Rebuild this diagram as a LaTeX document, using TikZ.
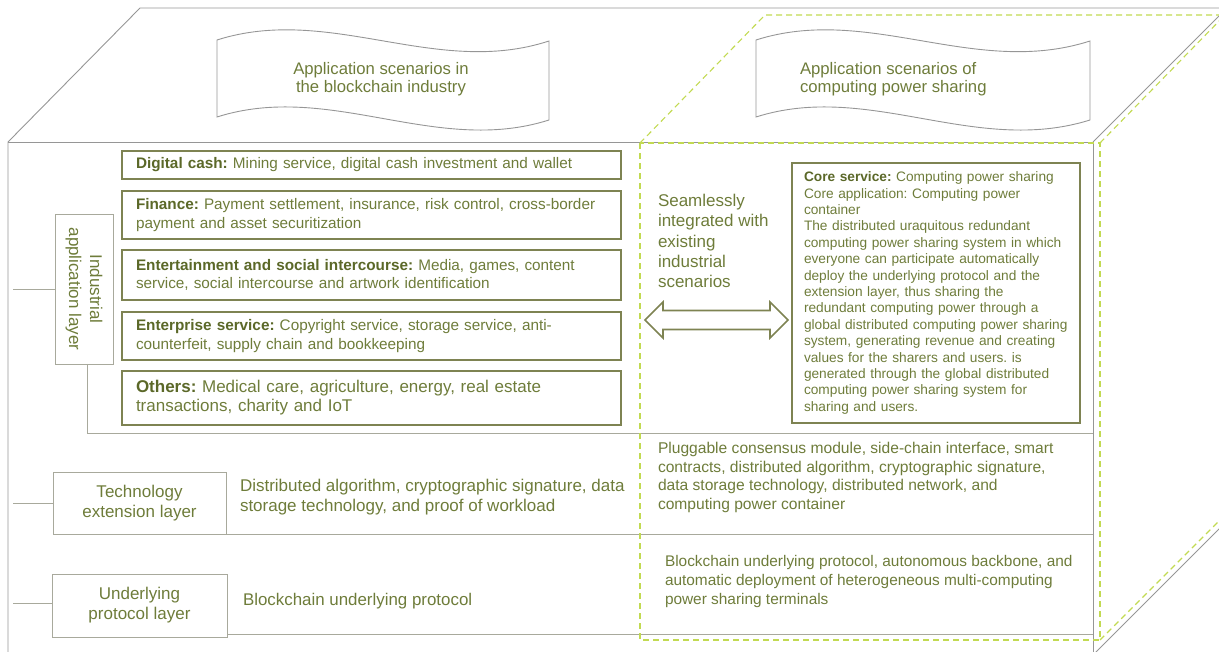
\documentclass[tikz,border=0pt]{standalone}
\usepackage{fontspec}
\setmainfont{Liberation Sans}
\usetikzlibrary{calc}
\frenchspacing

\definecolor{olivetext}{HTML}{6E7C3A}
\definecolor{olivedark}{HTML}{5B6828}
\definecolor{boxline}{HTML}{7E8352}
\definecolor{frameline}{HTML}{969696}
\definecolor{labelline}{HTML}{A8A99C}
\definecolor{limedash}{HTML}{C2DA52}

\newcommand\boxhead[1]{\textbf{\color{olivedark}#1}}

\begin{document}
\begin{tikzpicture}[x=1pt,y=-1pt,
  every node/.style={inner sep=0pt, outer sep=0pt, text=olivetext},
  frame/.style={draw=frameline, line width=0.9pt},
  limeline/.style={draw=limedash, line width=1.1pt, dash pattern=on 6pt off 4pt},
  banner/.style={draw=frameline, line width=0.9pt},
  appbox/.style={draw=boxline, line width=1.6pt, anchor=north west, align=left,
    text width=471pt, inner xsep=14pt, font=\fontsize{15.3}{18.4}\selectfont},
  corebox/.style={draw=boxline, line width=1.6pt, anchor=north west, align=left,
    text width=264pt, inner xsep=12pt, font=\fontsize{13.7}{16.4}\selectfont},
  layerbox/.style={draw=labelline, line width=0.9pt, align=center,
    font=\fontsize{17}{20}\selectfont},
  link/.style={draw=labelline, line width=0.9pt},
  plain/.style={anchor=west, align=left},
  arrowline/.style={draw=boxline, line width=1.6pt, line join=miter}
]
\useasboundingbox (0,0) rectangle (1219,652);

% ---- outer block: front face, top face and right face
\begin{scope}
  \clip (0,0) rectangle (1219,652);
  \draw[frame] (8,660) -- (8,142) -- (140,8) -- (1240,8);
  \draw[frame] (8,142) -- (1093,142) -- (1093,660);
  \draw[frame] (1093,142) -- (1227,8);
  \draw[frame] (1093,655) -- (1227,521);
\end{scope}

% ---- scenario banners
\draw[banner] (217,40) .. controls (330,4) and (436,78) .. (549,41)
  -- (549,120) .. controls (436,156) and (330,81) .. (217,117) -- cycle;
\draw[banner] (756,40) .. controls (869,4) and (975,78) .. (1090,41)
  -- (1090,120) .. controls (975,156) and (869,81) .. (756,117) -- cycle;
\node[align=center, font=\fontsize{16.7}{18.6}\selectfont] (bannerA) at (381,79)
  {Application scenarios in\\the blockchain industry};
\node[anchor=west, align=left, font=\fontsize{16.7}{18.6}\selectfont] (bannerB) at (800,79)
  {Application scenarios of\\computing power sharing};

% ---- industrial application layer
\node[appbox, minimum height=28pt] (cash) at (122,151)
  {\boxhead{Digital cash:} Mining service, digital cash investment and wallet};
\node[appbox, minimum height=48pt] (finance) at (122,191)
  {\boxhead{Finance:} Payment settlement, insurance, risk control, cross-border\\payment and asset securitization};
\node[appbox, minimum height=50pt] (social) at (122,250)
  {\boxhead{Entertainment and social intercourse:} Media, games, content\\service, social intercourse and artwork identification};
\node[appbox, minimum height=48pt] (enterprise) at (122,312)
  {\boxhead{Enterprise service:} Copyright service, storage service, anti-\\counterfeit, supply chain and bookkeeping};
\node[appbox, minimum height=54pt, font=\fontsize{17}{19}\selectfont] (others) at (122,371)
  {\boxhead{Others:} Medical care, agriculture, energy, real estate\\transactions, charity and IoT};

\node[layerbox, minimum width=58pt, minimum height=150pt] (ind) at (84,289) {};
\node[rotate=-90, align=center, font=\fontsize{17}{21}\selectfont] (indtext) at (ind.center)
  {Industrial\\application layer};

\coordinate (indL) at (13,289);
\coordinate (rowA) at (1093,433);
\draw[link] (indL) -- (ind.west);
\draw[link] ([xshift=3pt]ind.south) |- (rowA);

% ---- bridge between the two sides
\node[plain, font=\fontsize{17}{20.4}\selectfont] (bridge) at (658,241)
  {Seamlessly\\integrated with\\existing\\industrial\\scenarios};
\draw[arrowline] (645,320) -- (663,302) -- (663,310.5) -- (770,310.5) -- (770,302)
  -- (788,320) -- (770,338) -- (770,329.5) -- (663,329.5) -- (663,338) -- cycle;

\node[corebox, minimum height=260pt] (core) at (792,163)
  {\boxhead{Core service:} Computing power sharing\\
   Core application: Computing power\\
   container\\
   The distributed uraquitous redundant\\
   computing power sharing system in which\\
   everyone can participate automatically\\
   deploy the underlying protocol and the\\
   extension layer, thus sharing the\\
   redundant computing power through a\\
   global distributed computing power sharing\\
   system, generating revenue and creating\\
   values for the sharers and users. is\\
   generated through the global distributed\\
   computing power sharing system for\\
   sharing and users.};

% ---- technology extension layer
\node[layerbox, minimum width=173pt, minimum height=62pt] (tech) at (139.5,503)
  {Technology\\extension layer};
\coordinate (techL) at (13,503);
\coordinate (rowB) at (1093,534);
\draw[link] (techL) -- (tech.west);
\draw[link] (tech.south east) -- (rowB);
\node[plain, font=\fontsize{17}{20}\selectfont] (techleft) at (240,497)
  {Distributed algorithm, cryptographic signature, data\\storage technology, and proof of workload};
\node[plain, font=\fontsize{15.6}{18.4}\selectfont] (techright) at (658,477.5)
  {Pluggable consensus module, side-chain interface, smart\\contracts, distributed algorithm, cryptographic signature,\\data storage technology, distributed network, and\\computing power container};

% ---- underlying protocol layer
\node[layerbox, minimum width=175pt, minimum height=63pt] (under) at (139.5,605.5)
  {Underlying\\protocol layer};
\coordinate (underL) at (13,603);
\coordinate (rowC) at (1093,634);
\draw[link] (underL) -- (under.west |- underL);
\draw[link] ([yshift=3pt]under.south east) -- (rowC);
\node[plain, font=\fontsize{16.9}{20}\selectfont] (underleft) at (243,601)
  {Blockchain underlying protocol};
\node[plain, font=\fontsize{15.4}{18.6}\selectfont] (underright) at (665,581.5)
  {Blockchain underlying protocol, autonomous backbone, and\\automatic deployment of heterogeneous multi-computing\\power sharing terminals};

% ---- computing power sharing block (dashed)
\begin{scope}
  \clip (0,0) rectangle (1219,652);
  \draw[limeline] (640,143) rectangle (1100,640);
  \draw[limeline] (640,143) -- (765,15) -- (1240,15);
  \draw[limeline] (1100,143) -- (1225,15);
  \draw[limeline] (1100,640) -- (1225,515);
\end{scope}
\end{tikzpicture}
\end{document}
